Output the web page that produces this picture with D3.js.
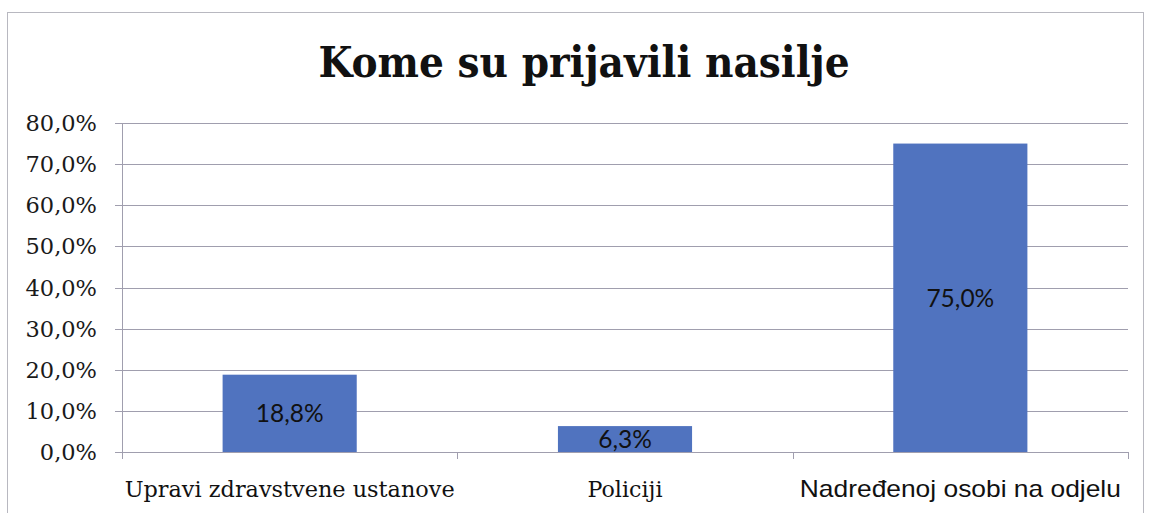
<!DOCTYPE html>
<html><head><meta charset="utf-8">
<script src="https://cdn.jsdelivr.net/npm/d3@7"></script>
<style>
html,body{margin:0;padding:0;background:#fff;}
</style></head>
<body>
<svg id="chart" width="1150" height="513"></svg>
<script>
const title = "Kome su prijavili nasilje";
const categories = ["Upravi zdravstvene ustanove", "Policiji", "Nadređenoj osobi na odjelu"];
const values = [18.8, 6.3, 75.0];
const valueLabels = ["18,8%", "6,3%", "75,0%"];
const yTicks = [0, 10, 20, 30, 40, 50, 60, 70, 80];
const yTickLabels = ["0,0%", "10,0%", "20,0%", "30,0%", "40,0%", "50,0%", "60,0%", "70,0%", "80,0%"];

const svg = d3.select("#chart");
const W = 1150, H = 513;
const m = {left: 122, right: 22, top: 123, bottom: 61};

svg.append("rect").attr("x", 7.5).attr("y", 12.5).attr("width", 1136).attr("height", 510)
  .attr("fill", "#fff").attr("stroke", "#b8b8c0").attr("stroke-width", 1);

svg.append("text").attr("x", 584).attr("y", 77).attr("text-anchor", "middle")
  .attr("font-family", "DejaVu Serif Condensed, DejaVu Serif").attr("font-weight", "bold")
  .attr("font-stretch", "condensed")
  .attr("font-size", 43.5).attr("fill", "#111").text(title);

const x = d3.scaleBand().domain(categories).range([m.left, W - m.right]).paddingInner(0.6).paddingOuter(0.3);
const y = d3.scaleLinear().domain([0, 80]).range([H - m.bottom, m.top]);

// gridlines
svg.append("g").selectAll("line").data(yTicks).join("line")
  .attr("x1", m.left - 7).attr("x2", W - m.right)
  .attr("y1", d => Math.round(y(d)) + 0.5).attr("y2", d => Math.round(y(d)) + 0.5)
  .attr("stroke", "#a09eae").attr("stroke-width", 1);

// y axis line
svg.append("line").attr("x1", m.left + 0.5).attr("x2", m.left + 0.5)
  .attr("y1", y(80)).attr("y2", y(0) + 7).attr("stroke", "#a09eae");

// x category tick marks at band boundaries
const step = x.step();
const firstEdge = x(categories[0]) - (x.paddingInner() * step) / 2;
svg.append("g").selectAll("line").data(d3.range(categories.length + 1)).join("line")
  .attr("x1", i => Math.round(firstEdge + i * step) + 0.5)
  .attr("x2", i => Math.round(firstEdge + i * step) + 0.5)
  .attr("y1", y(0)).attr("y2", y(0) + 7).attr("stroke", "#a09eae");

// y tick labels
svg.append("g").selectAll("text").data(yTicks).join("text")
  .attr("x", 97).attr("y", d => y(d)).attr("dy", "0.36em").attr("text-anchor", "end")
  .attr("font-family", "DejaVu Serif").attr("font-size", 22.5).attr("fill", "#1a1a1a")
  .text((d, i) => yTickLabels[i]);

// bars
svg.append("g").selectAll("rect").data(values).join("rect")
  .attr("x", (d, i) => x(categories[i])).attr("width", x.bandwidth())
  .attr("y", d => y(d)).attr("height", d => y(0) - y(d))
  .attr("fill", "#5073bf");

// value labels
svg.append("g").selectAll("text").data(values).join("text")
  .attr("x", (d, i) => x(categories[i]) + x.bandwidth() / 2)
  .attr("y", d => (y(d) + y(0)) / 2).attr("dy", "0.36em").attr("text-anchor", "middle")
  .attr("font-family", "Lato").attr("font-size", 24.5).attr("fill", "#111")
  .text((d, i) => valueLabels[i]);

// category labels
const catFonts = ["DejaVu Serif", "DejaVu Serif", "Liberation Sans"];
const catSizes = [22, 22, 24];
const catWidths = [330, 75, 321];
svg.append("g").selectAll("text").data(categories).join("text")
  .attr("x", d => x(d) + x.bandwidth() / 2).attr("y", 497).attr("text-anchor", "middle")
  .attr("font-family", (d, i) => catFonts[i]).attr("font-size", (d, i) => catSizes[i])
  .attr("textLength", (d, i) => catWidths[i]).attr("lengthAdjust", "spacingAndGlyphs")
  .attr("fill", "#111").text(d => d);
</script>
</body></html>
